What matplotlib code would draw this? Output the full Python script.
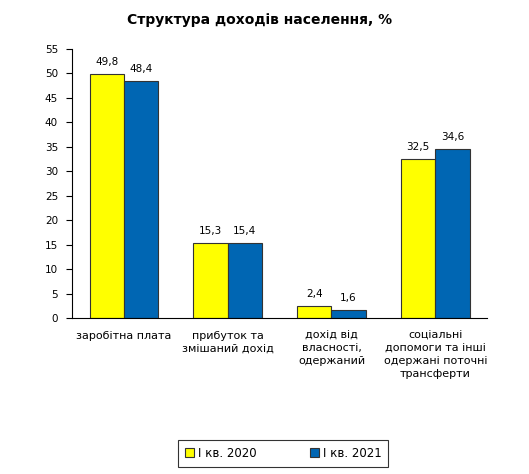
import numpy as np
import matplotlib.pyplot as plt

categories = ['заробітна плата', 'прибуток та\nзмішаний дохід',
              'дохід від\nвласності,\nодержаний',
              'соціальні\nдопомоги та інші\nодержані поточні\nтрансферти']
series_names = ['І кв. 2020', 'І кв. 2021']
q1_2020 = [49.8, 15.3, 2.4, 32.5]
q1_2021 = [48.4, 15.4, 1.6, 34.6]
yticks = np.arange(0, 56, 5)

plt.rcParams['font.family'] = ['DejaVu Sans']

fig = plt.figure(figsize=(5.29, 4.74), dpi=100)
ax = fig.add_axes([0.136, 0.329, 0.785, 0.568])

x = np.arange(len(categories))
w = 0.33
b1 = ax.bar(x - w / 2, q1_2020, w, color='#FFFF00', edgecolor='#333333', linewidth=0.8, label=series_names[0])
b2 = ax.bar(x + w / 2, q1_2021, w, color='#0066B3', edgecolor='#333333', linewidth=0.8, label=series_names[1])

# value labels with comma decimals
for bars in (b1, b2):
    ax.bar_label(bars, labels=[f'{v:.1f}'.replace('.', ',') for v in bars.datavalues],
                 padding=5, fontsize=7.5)

ax.set_xlim(-0.5, len(categories) - 0.5)
ax.set_ylim(0, 55)
ax.set_yticks(yticks)
ax.tick_params(axis='y', labelsize=7.5, length=4, width=0.8, pad=6)
ax.set_xticks(x)
ax.set_xticklabels(categories, fontsize=8, linespacing=1.35)
ax.tick_params(axis='x', length=0, pad=9)
for s in ('top', 'right'):
    ax.spines[s].set_visible(False)
ax.spines['left'].set_linewidth(0.8)
ax.spines['bottom'].set_linewidth(0.8)

fig.text(0.49, 0.958, 'Структура доходів населення, %', ha='center', va='center',
         fontsize=10, fontweight='bold')

leg = fig.legend(handles=[b1, b2], labels=series_names, loc='center',
                 bbox_to_anchor=(0.535, 0.044), ncol=2, fontsize=8.5,
                 frameon=True, fancybox=False, edgecolor='black',
                 handlelength=0.8, handleheight=0.8, columnspacing=4.5,
                 handletextpad=0.3, borderpad=0.6, borderaxespad=0)
leg.get_frame().set_linewidth(0.8)

fig.savefig('out.png', dpi=100)
